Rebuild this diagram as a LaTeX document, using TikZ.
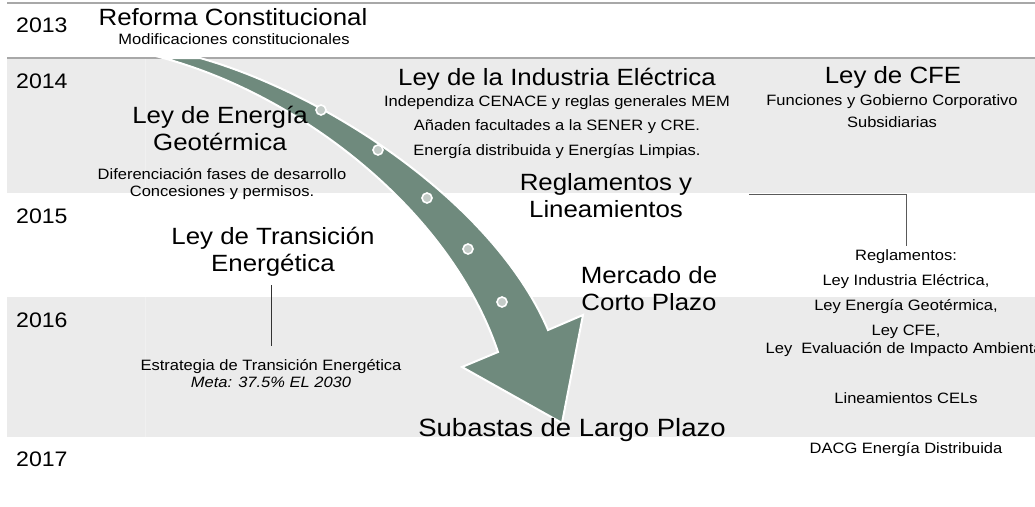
\documentclass[tikz,border=0pt]{standalone}
\usepackage{fontspec}
\setmainfont[FakeStretch=1.1]{Liberation Sans}
\usetikzlibrary{positioning}

\definecolor{bandgray}{HTML}{EBEBEB}
\definecolor{rulegray}{HTML}{A8A8A8}
\definecolor{arrowgreen}{HTML}{6F8A7D}
\definecolor{dotgray}{HTML}{C3CBC7}

\tikzset{
  yearlbl/.style={anchor=base west, inner sep=0, font=\fontsize{21}{21}\selectfont},
  lawtitle/.style={anchor=base, inner sep=0, align=center, font=\fontsize{23.5}{27}\selectfont},
  lawnote/.style={anchor=base, inner sep=0, align=center, font=\fontsize{15}{17}\selectfont},
  stepdot/.style={fill=dotgray, draw=white, line width=1.6pt}
}

\begin{document}
\begin{tikzpicture}[x=1pt, y=-1pt]
  \useasboundingbox (0,0) rectangle (1035,506);
  \clip (0,0) rectangle (1035,506);

  % year bands
  \fill[bandgray] (7,58) rectangle (1035,193);
  \fill[bandgray] (7,297) rectangle (1035,437);
  \draw[black!6] (145,58) -- (145,193);
  \draw[black!6] (145,297) -- (145,437);
  \draw[rulegray, line width=1.5pt] (7,3) -- (1035,3);
  \draw[rulegray, line width=1.5pt] (7,58) -- (1035,58);

  \node[yearlbl] (y2013) at (16,32) {2013};
  \node[yearlbl] (y2014) at (16,88) {2014};
  \node[yearlbl] (y2015) at (16,223) {2015};
  \node[yearlbl] (y2016) at (16,327) {2016};
  \node[yearlbl] (y2017) at (16,466) {2017};

  % big curved arrow
  \filldraw[fill=arrowgreen, draw=white, line width=2pt]
    (163,58) .. controls (300,95) and (450,210) .. (498,352)
    -- (462,367) -- (562,423) -- (583,315) -- (548,330)
    .. controls (495,205) and (330,95) .. (200,58) -- cycle;
  \foreach \p in {(321,110),(378,150),(427,198),(468,249),(502,302)}
    \filldraw[stepdot] \p circle (5pt);

  % multi-line nodes sit on the baseline of their last line
  \node[lawtitle] (reforma) at (233,25) {Reforma Constitucional};
  \node[lawnote] (reformanote) at (234,44) {Modificaciones constitucionales};

  \node[lawtitle] (geo) at (220,150) {Ley de Energía\\Geotérmica};
  \node[lawnote] (geonote) at (222,196) {Diferenciación fases de desarrollo\\Concesiones y permisos.};

  \node[lawtitle] (lie) at (557,85) {Ley de la Industria Eléctrica};
  \node[lawnote, font=\fontsize{15}{24.5}\selectfont] (lienote) at (557,155)
    {Independiza CENACE y reglas generales MEM\\Añaden facultades a la SENER y CRE.\\Energía distribuida y Energías Limpias.};

  \node[lawtitle] (cfe) at (893,83) {Ley de CFE};
  \node[lawnote, font=\fontsize{15}{22}\selectfont] (cfenote) at (892,127)
    {Funciones y Gobierno Corporativo\\Subsidiarias};

  \node[lawtitle] (regl) at (606,217) {Reglamentos y\\Lineamientos};

  \node[lawtitle] (trans) at (273,271) {Ley de Transición\\Energética};
  \node[lawnote] (estr) at (271,387) {Estrategia de Transición Energética\\\textit{Meta: 37.5\% EL 2030}};

  \node[lawtitle] (mcp) at (649,310) {Mercado de\\Corto Plazo};
  \node[lawtitle, font=\fontsize{25}{27}\selectfont] (slp) at (572,436) {Subastas de Largo Plazo};

  \node[lawnote, font=\fontsize{15}{18}\selectfont] (rlist) at (906,453)
    {Reglamentos:\\[7pt]Ley Industria Eléctrica,\\[7pt]Ley Energía Geotérmica,\\[7pt]Ley CFE,\\Ley\ \ Evaluación de Impacto Ambiental\\[32pt]Lineamientos CELs\\[32pt]DACG Energía Distribuida};

  % connectors
  \coordinate (reglend) at (749,194);
  \draw[black!65] (reglend) -| ([yshift=3pt]rlist.north);
  \draw[black!80] ([yshift=-9pt]trans.south -| estr.north) -- ([yshift=13pt]estr.north);
\end{tikzpicture}
\end{document}
